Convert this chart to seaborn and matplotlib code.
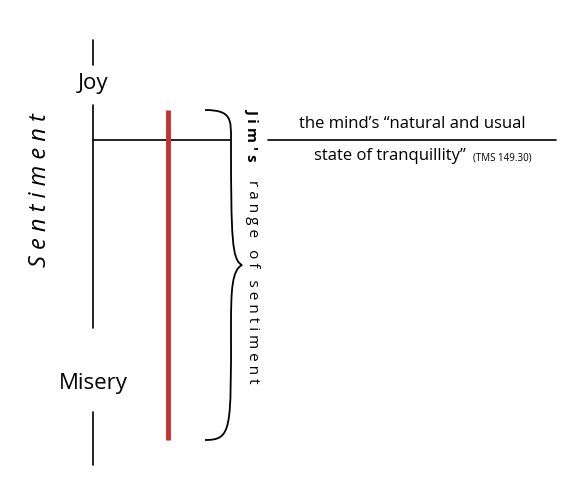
import matplotlib.pyplot as plt
import seaborn as sns
from matplotlib.path import Path
from matplotlib.patches import PathPatch

sns.set_theme(style="white")
plt.rcParams['font.family'] = ['Open Sans', 'DejaVu Sans']

# diagram values (pixel-like scale, y grows downward)
axis_segments = [(40, 65), (105, 328), (412, 465)]
axis_x = 93
baseline_y = 140
jim_range = [110, 440]
red_x = 168
pole_labels = ['Joy', 'Misery']
pole_y = [84, 384]

fig, ax = plt.subplots(figsize=(5.88, 4.88), dpi=100)
fig.subplots_adjust(0, 0, 1, 1)
ax.set_xlim(0, 588)
ax.set_ylim(488, 0)
ax.axis('off')

for y0, y1 in axis_segments:
    ax.plot([axis_x, axis_x], [y0, y1], color='black', linewidth=1.2)
ax.plot([axis_x, 230], [baseline_y, baseline_y], color='black', linewidth=1.2)
ax.plot([268, 556], [baseline_y, baseline_y], color='black', linewidth=1.2)
ax.plot([red_x, red_x], jim_range, color='#c8312b', linewidth=3.5, solid_capstyle='butt')

for lab, y in zip(pole_labels, pole_y):
    ax.text(axis_x, y, lab, ha='center', va='center', fontsize=16, color='black')

ax.text(40, 190, 'S e n t i m e n t', rotation=90, ha='center', va='center',
        fontsize=17, style='italic', color='black')

# curly brace
t, b = jim_range
m = (t + b) / 2 - 10
xl, xr = 205, 232
verts = [(xl, t), (xr, t), (xr - 1, t + 10), (xr - 1, t + 30),
         (xr - 1, m - 25), (xr, m - 5), (xr + 10, m),
         (xr, m + 5), (xr - 1, m + 25), (xr - 1, m + 60),
         (xr - 1, b - 10), (xr, b), (xl, b)]
codes = [Path.MOVETO] + [Path.CURVE4] * 12
ax.add_patch(PathPatch(Path(verts, codes), fc='none', ec='black', lw=1.3))

ax.text(252, 108, "J i m ' s", rotation=-90, ha='center', va='top',
        fontsize=11, fontweight='bold', color='black')
ax.text(252, 180, "r a n g e   o f   s e n t i m e n t", rotation=-90,
        ha='center', va='top', fontsize=11, color='black')

ax.text(412, 132, 'the mind\u2019s \u201cnatural and usual', ha='center', va='bottom',
        fontsize=12, color='black')
ax.text(390, 148, 'state of tranquillity\u201d', ha='center', va='top',
        fontsize=12, color='black')
ax.text(502, 152, '(TMS 149.30)', ha='center', va='top', fontsize=7, color='black')

fig.savefig('out.png', dpi=100)
